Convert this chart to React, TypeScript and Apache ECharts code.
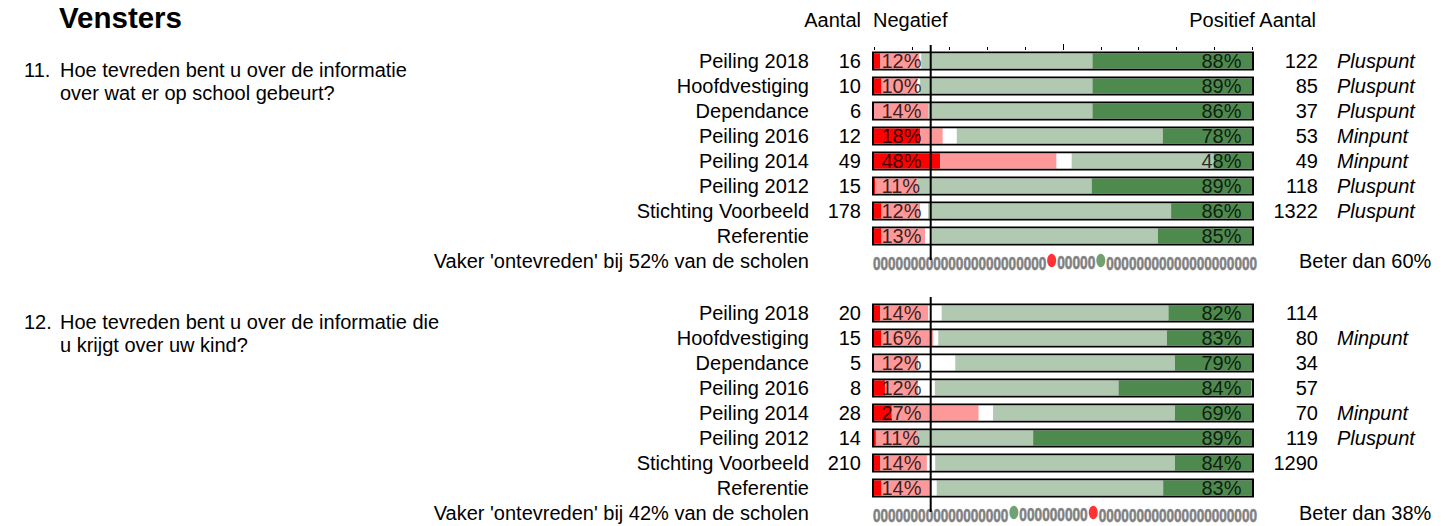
import React, { useEffect, useRef } from "react";
import * as echarts from "echarts";

const FONT = "'Liberation Sans', Arial, Helvetica, sans-serif";

// ---------- data ----------
const rowNames = [
  "Peiling 2018",
  "Hoofdvestiging",
  "Dependance",
  "Peiling 2016",
  "Peiling 2014",
  "Peiling 2012",
  "Stichting Voorbeeld",
  "Referentie",
];

// Question 11
const q11Title = ["Hoe tevreden bent u over de informatie", "over wat er op school gebeurt?"];
const q11NegCount = [16, 10, 6, 12, 49, 15, 178, null];
const q11PosCount = [122, 85, 37, 53, 49, 118, 1322, null];
const q11Tag = ["Pluspunt", "Pluspunt", "Pluspunt", "Minpunt", "Minpunt", "Pluspunt", "Pluspunt", ""];
const q11NegPct = [12, 10, 14, 18, 48, 11, 12, 13];
const q11PosPct = [88, 89, 86, 78, 48, 89, 86, 85];
const q11VeryNeg = [1.6, 2.0, 0, 12.2, 17.5, 0.3, 2.0, 2.0];
const q11Neg = [10.4, 9.5, 14.4, 6.0, 30.8, 11.2, 10.2, 11.5];
const q11Neutral = [0.5, 0.7, 0, 3.7, 4.0, 0, 2.1, 1.8];
const q11Pos = [45.3, 45.6, 43.4, 54.5, 37.6, 46.1, 64.3, 59.8];
const q11VeryPos = [42.2, 42.2, 42.2, 23.6, 10.1, 42.4, 21.4, 24.9];
const q11Ontevreden = 52;
const q11Beter = 60;
const q11RedDot = 47;
const q11GreenDot = 60;

// Question 12
const q12Title = ["Hoe tevreden bent u over de informatie die", "u krijgt over uw kind?"];
const q12NegCount = [20, 15, 5, 8, 28, 14, 210, null];
const q12PosCount = [114, 80, 34, 57, 70, 119, 1290, null];
const q12Tag = ["", "Minpunt", "", "", "Minpunt", "Pluspunt", "", ""];
const q12NegPct = [14, 16, 12, 12, 27, 11, 14, 14];
const q12PosPct = [82, 83, 79, 84, 69, 89, 84, 83];
const q12VeryNeg = [1.6, 2.0, 0, 2.9, 4.7, 0.5, 1.6, 2.0];
const q12Neg = [12.8, 13.7, 11.7, 8.8, 23.0, 11.2, 12.4, 12.8];
const q12Neutral = [3.5, 1.3, 9.8, 4.4, 3.8, 0, 2.2, 1.8];
const q12Pos = [60.0, 60.5, 58.1, 48.6, 48.1, 30.4, 63.4, 59.9];
const q12VeryPos = [22.1, 22.5, 20.4, 35.2, 20.4, 57.9, 20.4, 23.5];
const q12Ontevreden = 42;
const q12Beter = 38;
const q12RedDot = 58;
const q12GreenDot = 37;

const segColors = ["#FF0000", "#FF9999", "#FFFFFF", "#B0C9B0", "#4E8A4E"];

const questions = [
  {
    num: "11.",
    title: q11Title,
    negCount: q11NegCount,
    posCount: q11PosCount,
    tag: q11Tag,
    negPct: q11NegPct,
    posPct: q11PosPct,
    segs: [q11VeryNeg, q11Neg, q11Neutral, q11Pos, q11VeryPos],
    ontevreden: q11Ontevreden,
    beter: q11Beter,
    redDot: q11RedDot,
    greenDot: q11GreenDot,
  },
  {
    num: "12.",
    title: q12Title,
    negCount: q12NegCount,
    posCount: q12PosCount,
    tag: q12Tag,
    negPct: q12NegPct,
    posPct: q12PosPct,
    segs: [q12VeryNeg, q12Neg, q12Neutral, q12Pos, q12VeryPos],
    ontevreden: q12Ontevreden,
    beter: q12Beter,
    redDot: q12RedDot,
    greenDot: q12GreenDot,
  },
];

const GROUP_TOPS = [48.5, 300.5];
const ROW_H = 25;

export default function App() {
  const ref = useRef<HTMLDivElement>(null);

  useEffect(() => {
    const chart = echarts.init(ref.current!, null, { renderer: "svg" });
    const keys = [...rowNames, "dots"];
    const nRows = rowNames.length;
    const grids: any[] = [];
    const xAxes: any[] = [];
    const yAxes: any[] = [];
    const series: any[] = [];
    const idx: { xMain: number; yMain: number }[] = [];

    const baseText = { fontFamily: FONT, fontSize: 20, color: "#000" };
    const sideAxis = (gridIndex: number, position: string, margin: number, align: string, formatter: any, extra: any = {}) => ({
      gridIndex,
      type: "category",
      data: keys,
      inverse: true,
      position,
      axisLine: { show: false },
      axisTick: { show: false },
      axisLabel: { interval: 0, margin, align, formatter, ...baseText, ...extra },
    });

    questions.forEach((q, g) => {
      const top = GROUP_TOPS[g];
      const height = ROW_H * keys.length;
      const gMain = grids.length;
      grids.push({ left: 874, top, width: 378, height, outerBoundsMode: "none" });
      grids.push({ left: 872, top, width: 382, height, outerBoundsMode: "none" });

      const xMain = xAxes.length;
      xAxes.push({
        gridIndex: gMain,
        type: "value",
        min: 0,
        max: 100,
        interval: 10,
        position: "top",
        offset: -1.5,
        axisLine: { show: false },
        axisTick: { show: g === 0, length: 3, lineStyle: { color: "#000", width: 1 } },
        axisLabel: { show: false },
        splitLine: { show: false },
      });
      if (g === 0) {
        xAxes.push({
          gridIndex: gMain,
          type: "value",
          min: 0,
          max: 100,
          position: "top",
          offset: -1.5,
          axisLine: { show: false },
          axisTick: { show: true, length: 6, customValues: [50], lineStyle: { color: "#000", width: 1 } },
          axisLabel: { show: false, customValues: [50] },
          splitLine: { show: false },
        });
      }
      const xBox = xAxes.length;
      xAxes.push({ gridIndex: gMain + 1, type: "value", min: 0, max: 100, show: false, splitLine: { show: false } });

      const yMain = yAxes.length;
      yAxes.push({
        gridIndex: gMain,
        type: "category",
        data: keys,
        inverse: true,
        position: "left",
        axisLine: { show: false },
        axisTick: { show: false },
        axisLabel: {
          interval: 0,
          margin: 13,
          formatter: (_v: string, i: number) => {
            if (i < nRows) {
              const c = q.negCount[i];
              return `{n|${rowNames[i]}}{c|${c == null ? " " : c}}`;
            }
            return `{n|Vaker 'ontevreden' bij ${q.ontevreden}% van de scholen}{c| }`;
          },
          rich: {
            n: { ...baseText },
            c: { ...baseText, width: 52, align: "right" },
          },
        },
      });
      // right side: counts (right aligned), tags (italic), "Beter dan"
      yAxes.push(
        sideAxis(gMain, "right", 66, "right", (_v: string, i: number) =>
          i < nRows && q.posCount[i] != null ? String(q.posCount[i]) : ""
        )
      );
      yAxes.push(
        sideAxis(
          gMain,
          "right",
          85,
          "left",
          (_v: string, i: number) => (i < nRows ? q.tag[i] : ""),
          { fontStyle: "italic" }
        )
      );
      yAxes.push(
        sideAxis(gMain, "right", 47, "left", (_v: string, i: number) =>
          i === nRows ? `Beter dan ${q.beter}%` : ""
        )
      );
      const yBox = yAxes.length;
      yAxes.push({ gridIndex: gMain + 1, type: "category", data: keys, inverse: true, show: false });

      idx.push({ xMain, yMain });

      series.push({
        type: "bar",
        xAxisIndex: xBox,
        yAxisIndex: yBox,
        data: keys.map((_k, i) => (i < nRows ? 100 : "-")),
        barWidth: 19,
        itemStyle: { color: "#FFFFFF", borderColor: "#000", borderWidth: 2 },
        z: 1,
        silent: true,
      });

      q.segs.forEach((arr, s) => {
        series.push({
          type: "bar",
          stack: "q" + g,
          xAxisIndex: xMain,
          yAxisIndex: yMain,
          barWidth: 15,
          data: [...arr, "-"],
          itemStyle: { color: segColors[s] },
          z: 2,
          silent: true,
        });
      });

      series.push({
        type: "scatter",
        xAxisIndex: xMain,
        yAxisIndex: yMain,
        data: q.negPct.map((_v, i) => [0, i]),
        symbolSize: 1,
        itemStyle: { color: "rgba(0,0,0,0)" },
        label: {
          show: true,
          position: "right",
          distance: 7,
          ...baseText,
          formatter: (p: any) => q.negPct[p.dataIndex] + "%",
        },
        z: 5,
        silent: true,
        clip: false,
      });
      series.push({
        type: "scatter",
        xAxisIndex: xMain,
        yAxisIndex: yMain,
        data: q.posPct.map((_v, i) => [100, i]),
        symbolSize: 1,
        itemStyle: { color: "rgba(0,0,0,0)" },
        label: {
          show: true,
          position: "left",
          distance: 10,
          ...baseText,
          formatter: (p: any) => q.posPct[p.dataIndex] + "%",
        },
        z: 5,
        silent: true,
        clip: false,
      });

      series.push({
        type: "scatter",
        xAxisIndex: xMain,
        yAxisIndex: yMain,
        data: [[q.redDot, nRows]],
        symbol: "circle",
        symbolSize: [9, 13.5],
        symbolOffset: [0, -0.5],
        itemStyle: { color: "#FF0000" },
        z: 8,
        silent: true,
        clip: false,
      });
      series.push({
        type: "scatter",
        xAxisIndex: xMain,
        yAxisIndex: yMain,
        data: [[q.greenDot, nRows]],
        symbol: "circle",
        symbolSize: [9, 13.5],
        symbolOffset: [0, -0.5],
        itemStyle: { color: "#4E8A4E" },
        z: 8,
        silent: true,
        clip: false,
      });
    });

    chart.setOption({
      animation: false,
      backgroundColor: "#FFFFFF",
      textStyle: { fontFamily: FONT },
      grid: grids,
      xAxis: xAxes,
      yAxis: yAxes,
      series,
    });

    // ---------- decorations placed through the axes ----------
    const txt = (x: number, y: number, text: string, extra: any = {}) => ({
      type: "text",
      x,
      y,
      z: 20,
      style: {
        text,
        fill: "#000",
        fontFamily: FONT,
        fontSize: 20,
        align: "left",
        verticalAlign: "middle",
        ...extra,
      },
    });

    const graphics: any[] = [];
    graphics.push(txt(59, 17, "Vensters", { fontSize: 29.5, fontWeight: "bold" }));
    graphics.push(txt(861, 19.5, "Aantal", { align: "right" }));
    graphics.push(txt(873, 19.5, "Negatief"));
    graphics.push(txt(1316, 19.5, "Positief Aantal", { align: "right" }));

    const ZERO_FS = 19;
    const GLYPH_W = 0.556 * ZERO_FS;
    questions.forEach((q, g) => {
      const { xMain, yMain } = idx[g];
      const xp = (v: number) => chart.convertToPixel({ xAxisIndex: xMain }, v) as number;
      const yp = (k: string) => chart.convertToPixel({ yAxisIndex: yMain }, k) as number;
      const y0 = yp(rowNames[0]);
      const yd = yp("dots");

      graphics.push(txt(24, y0 + 9, q.num));
      q.title.forEach((line, li) => graphics.push(txt(60, y0 + 9 + li * 22.5, line)));

      // vertical reference line at 15%
      const lx = xp(15);
      graphics.push({
        type: "line",
        z: 30,
        shape: { x1: lx, y1: y0 - 16, x2: lx, y2: yd - 1 },
        style: { stroke: "#000", lineWidth: 2 },
      });

      // grey "0" scale row
      const left = xp(0) - 1;
      const right = xp(100) + 5;
      const dots = [xp(q.redDot), xp(q.greenDot)].sort((a, b) => a - b);
      const segs = [
        [left, dots[0] - 5.5],
        [dots[0] + 5.5, dots[1] - 5.5],
        [dots[1] + 5.5, right],
      ];
      segs.forEach(([a, b]) => {
        const w = b - a;
        const n = Math.max(0, Math.round(w / 7.5));
        if (n === 0) return;
        graphics.push({
          type: "text",
          x: a,
          y: yd + 2,
          scaleX: w / (n * GLYPH_W),
          z: 7,
          style: {
            text: "0".repeat(n),
            fill: "#808080",
            stroke: "#808080",
            lineWidth: 0.6,
            fontFamily: FONT,
            fontSize: ZERO_FS,
            fontWeight: "bold",
            align: "left",
            verticalAlign: "middle",
          },
        });
      });
    });

    chart.setOption({ graphic: graphics });

    return () => chart.dispose();
  }, []);

  return (
    <div
      ref={ref}
      style={{ position: "fixed", left: 0, top: 0, width: 1449, height: 526, background: "#fff" }}
    />
  );
}
